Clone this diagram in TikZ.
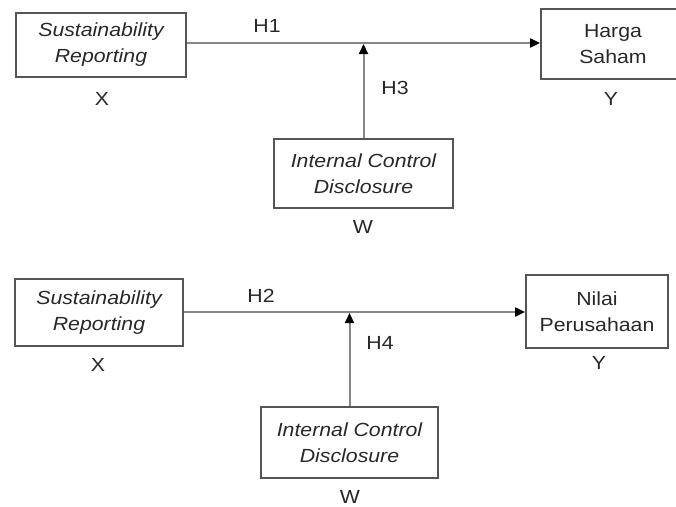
\documentclass[tikz,border=0pt]{standalone}
\usepackage{fontspec}
\setmainfont[FakeStretch=1.12]{Liberation Sans}
\usetikzlibrary{arrows.meta}
\definecolor{bx}{RGB}{85,85,85}
\definecolor{ln}{RGB}{135,135,135}
\definecolor{tx}{RGB}{40,40,40}
\begin{document}
\begin{tikzpicture}[x=1pt,y=1pt,
  box/.style={draw=bx,line width=1.8pt,rectangle,align=center,inner sep=0pt,text=tx,font=\fontsize{19}{26}\selectfont},
  lab/.style={text=tx,font=\fontsize{19}{26}\selectfont,inner sep=0pt},
  conn/.style={draw=ln,line width=2pt,-{Triangle[width=9pt,length=10pt,fill=black,color=black]}}]
\useasboundingbox (0,0) rectangle (676,-506);
% top
\node[box,minimum width=170,minimum height=64,font=\fontsize{19}{26}\selectfont] (x1) at (101,-45) {\itshape Sustainability\\\itshape Reporting};
\node[box,minimum width=144,minimum height=70,font=\fontsize{19}{26}\selectfont] (y1) at (613,-44) {Harga\\Saham};
\node[box,minimum width=179,minimum height=69] (w1) at (363.5,-173.5) {\itshape Internal Control\\\itshape Disclosure};
\node[lab] (xl1) at (102,-98.5) {X};
\node[lab] (yl1) at (611,-98.5) {Y};
\node[lab] (wl1) at (363,-226.5) {W};
\node[lab] (h1) at (267,-25.5) {H1};
\node[lab] (h3) at (395,-88) {H3};
\coordinate (a1) at (x1.east |- 0,-43);
\draw[conn] (a1) -- (a1 -| y1.west);
\coordinate (j1) at (w1.north |- a1);
\draw[conn,shorten >=1pt] (w1.north) -- (j1);
% bottom
\node[box,minimum width=168,minimum height=67,font=\fontsize{19}{26}\selectfont] (x2) at (99,-312.5) {\itshape Sustainability\\\itshape Reporting};
\node[box,minimum width=142,minimum height=73,font=\fontsize{19}{26}\selectfont] (y2) at (597,-311.5) {Nilai\\Perusahaan};
\node[box,minimum width=177,minimum height=71] (w2) at (349.5,-442.5) {\itshape Internal Control\\\itshape Disclosure};
\node[lab] (xl2) at (98,-364.5) {X};
\node[lab] (yl2) at (599,-363) {Y};
\node[lab] (wl2) at (350,-496.5) {W};
\node[lab] (h2) at (261,-295.5) {H2};
\node[lab] (h4) at (380,-343) {H4};
\coordinate (a2) at (x2.east |- 0,-312);
\draw[conn] (a2) -- (a2 -| y2.west);
\coordinate (j2) at (w2.north |- a2);
\draw[conn,shorten >=1pt] (w2.north) -- (j2);
\end{tikzpicture}
\end{document}
